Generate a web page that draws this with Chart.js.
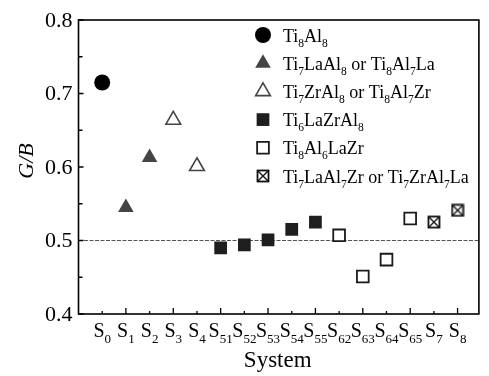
<!DOCTYPE html>
<html>
<head>
<meta charset="utf-8">
<script src="https://cdn.jsdelivr.net/npm/chart.js@4.4.1/dist/chart.umd.min.js"></script>
<style>
  html, body { margin: 0; padding: 0; background: #fff; }
  #wrap { width: 489px; height: 376px; }
</style>
</head>
<body>
<div id="wrap"><canvas id="chart" width="489" height="376"></canvas></div>
<script>
// x categories (S + subscript)
const categories = ['0', '1', '2', '3', '4', '51', '52', '53', '54', '55', '62', '63', '64', '65', '7', '8'];
const yTicks = [0.4, 0.5, 0.6, 0.7, 0.8];
const yMinor = [0.45, 0.55, 0.65, 0.75];
const refLine = 0.5;

// series: system labels + G/B values
const ti8al8Sys = ['0'];
const ti8al8 = [0.715];
const laSys = ['1', '2'];
const laVals = [0.545, 0.613];
const zrSys = ['3', '4'];
const zrVals = [0.664, 0.601];
const laZrSys = ['51', '52', '53', '54', '55'];
const laZrVals = [0.490, 0.494, 0.501, 0.515, 0.525];
const al6Sys = ['62', '63', '64', '65'];
const al6Vals = [0.507, 0.451, 0.474, 0.530];
const al7Sys = ['7', '8'];
const al7Vals = [0.525, 0.541];

const legendNames = [
  'Ti_8Al_8',
  'Ti_7LaAl_8 or Ti_8Al_7La',
  'Ti_7ZrAl_8 or Ti_8Al_7Zr',
  'Ti_6LaZrAl_8',
  'Ti_8Al_6LaZr',
  'Ti_7LaAl_7Zr or Ti_7ZrAl_7La'
];

const serif = '"Liberation Serif", "Times New Roman", serif';

function pts(sys, vals) {
  return sys.map((s, i) => ({ x: categories.indexOf(s), y: vals[i] }));
}

// crossed square marker
const cross = document.createElement('canvas');
cross.width = 14; cross.height = 14;
(function () {
  const c = cross.getContext('2d');
  c.strokeStyle = '#111';
  c.lineWidth = 1.8;
  c.strokeRect(1.5, 1.5, 11, 11);
  c.lineWidth = 1.4;
  c.beginPath();
  c.moveTo(2, 2); c.lineTo(12, 12);
  c.moveTo(12, 2); c.lineTo(2, 12);
  c.stroke();
})();

// draws "Ti_8Al_8" style text with subscripts
function drawSub(ctx, text, x, y, size, subSize, align) {
  const parts = text.split(/_(\d+)/);
  const big = size + 'px ' + serif, small = subSize + 'px ' + serif;
  let w = 0;
  parts.forEach((p, i) => { ctx.font = i % 2 ? small : big; w += ctx.measureText(p).width; });
  let cx = align === 'center' ? x - w / 2 : x;
  ctx.textAlign = 'left';
  ctx.textBaseline = 'alphabetic';
  parts.forEach((p, i) => {
    ctx.font = i % 2 ? small : big;
    ctx.fillText(p, cx, i % 2 ? y + size * 0.28 : y);
    cx += ctx.measureText(p).width;
  });
}

const axesPlugin = {
  id: 'axesPlugin',
  beforeDatasetsDraw(chart) {
    const ctx = chart.ctx, a = chart.chartArea;
    const x = chart.scales.x, y = chart.scales.y;
    ctx.save();
    // reference dashed line
    ctx.strokeStyle = '#555';
    ctx.lineWidth = 1;
    ctx.setLineDash([4, 1.5]);
    ctx.beginPath();
    ctx.moveTo(a.left, y.getPixelForValue(refLine));
    ctx.lineTo(a.right, y.getPixelForValue(refLine));
    ctx.stroke();
    ctx.setLineDash([]);
    // frame
    ctx.strokeStyle = '#000';
    ctx.lineWidth = 1.6;
    ctx.strokeRect(a.left, a.top, a.right - a.left, a.bottom - a.top);
    // y ticks
    ctx.lineWidth = 1.3;
    ctx.beginPath();
    yTicks.forEach(v => { const py = y.getPixelForValue(v); ctx.moveTo(a.left, py); ctx.lineTo(a.left + 5, py); });
    yMinor.forEach(v => { const py = y.getPixelForValue(v); ctx.moveTo(a.left, py); ctx.lineTo(a.left + 4, py); });
    // x ticks
    categories.forEach((c, i) => {
      const px = x.getPixelForValue(i);
      ctx.moveTo(px, a.bottom); ctx.lineTo(px, a.bottom - (i % 2 ? 6 : 3));
    });
    ctx.stroke();
    // y labels
    ctx.fillStyle = '#000';
    ctx.font = '22px ' + serif;
    ctx.textAlign = 'right';
    ctx.textBaseline = 'middle';
    yTicks.forEach(v => ctx.fillText(v.toFixed(1), a.left - 6, y.getPixelForValue(v) + 1));
    // x labels
    categories.forEach((c, i) => drawSub(ctx, 'S_' + c, x.getPixelForValue(i), a.bottom + 23, 20, 13, 'center'));
    // axis titles
    ctx.font = '23px ' + serif;
    ctx.textAlign = 'center';
    ctx.textBaseline = 'alphabetic';
    ctx.fillText('System', (a.left + a.right) / 2 - 1, 367);
    ctx.save();
    ctx.translate(33, 161);
    ctx.rotate(-Math.PI / 2);
    ctx.font = 'italic 22px ' + serif;
    ctx.fillText('G/B', 0, 0);
    ctx.restore();
    ctx.restore();
  },
  afterDraw(chart) {
    const ctx = chart.ctx;
    ctx.save();
    ctx.fillStyle = '#000';
    chart.data.datasets.forEach((ds, i) => {
      const cy = 35 + i * 28.2;
      ctx.save();
      ctx.fillStyle = ds.backgroundColor;
      ctx.strokeStyle = ds.borderColor;
      ctx.lineWidth = ds.borderWidth;
      Chart.helpers.drawPoint(ctx, {
        pointStyle: ds.pointStyle, rotation: 0, radius: ds.pointRadius, borderWidth: ds.borderWidth
      }, 263, cy);
      ctx.restore();
      drawSub(ctx, legendNames[i], 283, cy + 6.5, 18, 11.5, 'left');
    });
    ctx.restore();
  }
};

new Chart(document.getElementById('chart').getContext('2d'), {
  type: 'scatter',
  data: {
    datasets: [
      { label: legendNames[0], data: pts(ti8al8Sys, ti8al8), pointStyle: 'circle', pointRadius: 8,
        backgroundColor: '#000', borderColor: '#000', borderWidth: 0 },
      { label: legendNames[1], data: pts(laSys, laVals), pointStyle: 'triangle', pointRadius: 9,
        backgroundColor: '#444', borderColor: '#444', borderWidth: 0 },
      { label: legendNames[2], data: pts(zrSys, zrVals), pointStyle: 'triangle', pointRadius: 8.5,
        backgroundColor: '#fff', borderColor: '#444', borderWidth: 1.6 },
      { label: legendNames[3], data: pts(laZrSys, laZrVals), pointStyle: 'rect', pointRadius: 9,
        backgroundColor: '#1e1e1e', borderColor: '#1e1e1e', borderWidth: 0 },
      { label: legendNames[4], data: pts(al6Sys, al6Vals), pointStyle: 'rect', pointRadius: 8.3,
        backgroundColor: '#fff', borderColor: '#1a1a1a', borderWidth: 1.8 },
      { label: legendNames[5], data: pts(al7Sys, al7Vals), pointStyle: cross, pointRadius: 7,
        backgroundColor: '#fff', borderColor: '#111', borderWidth: 1.8 }
    ]
  },
  options: {
    responsive: false,
    animation: false,
    layout: { padding: { left: 78.5, right: 1.5, top: 20, bottom: 62 } },
    plugins: { legend: { display: false }, tooltip: { enabled: false } },
    scales: {
      x: { type: 'linear', min: -1, max: 15.9, display: false },
      y: { type: 'linear', min: 0.4, max: 0.8, display: false }
    }
  },
  plugins: [axesPlugin]
});
</script>
</body>
</html>
